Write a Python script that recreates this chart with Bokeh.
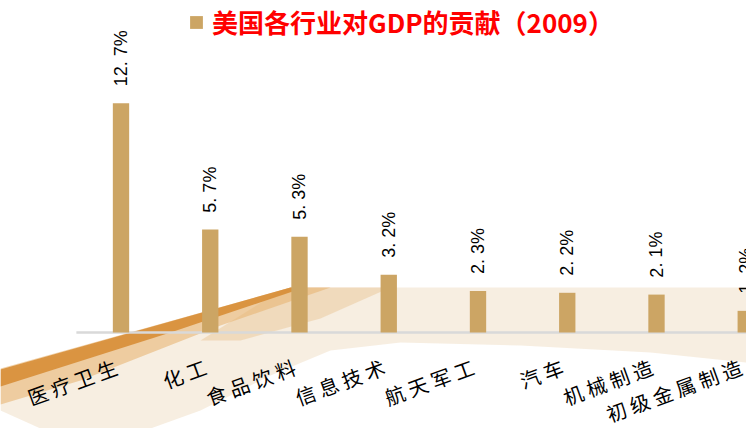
from bokeh.plotting import figure
from bokeh.models import Range1d, ColumnDataSource
from bokeh.core.properties import value
from bokeh.embed import file_html
from bokeh.resources import INLINE

# ---- data ----
categories = ["医疗卫生", "化工", "食品饮料", "信息技术", "航天军工", "汽车", "机械制造", "初级金属制造"]
shares = [12.7, 5.7, 5.3, 3.2, 2.3, 2.2, 2.1, 1.2]
title_text = "美国各行业对GDP的贡献（2009）"

value_labels = [f"{v:.1f}%".replace(".", ". ") for v in shares]
cat_labels = [" ".join(list(c)) for c in categories]
idx = list(range(len(categories)))

W, H = 746, 428
# pixel <-> data helpers (frame covers whole figure)
X0PX, XSTEP = 120.5, 89.25      # centre of first bar (px), px per category
Y0PX, YSTEP = 332.0, 18.05      # baseline (px from top), px per percent


def dx(px):
    return (px - X0PX) / XSTEP


def dy(py):
    return (Y0PX - py) / YSTEP


p = figure(width=W, height=H, output_backend="svg", toolbar_location=None,
           x_range=Range1d(dx(0), dx(W)), y_range=Range1d(dy(H), dy(0)),
           min_border=0, min_border_left=0, min_border_right=0,
           min_border_top=0, min_border_bottom=0)
p.axis.visible = False
p.grid.visible = False
p.outline_line_color = None
p.background_fill_color = "white"
p.border_fill_color = "white"


def poly(points, color, alpha):
    xs = [dx(x) for x, _ in points]
    ys = [dy(y) for _, y in points]
    p.patch(xs, ys, fill_color=color, fill_alpha=alpha, line_color=None)


# ---- decorative background swoosh (px) ----
# light beige band + fan
poly([(0, 372), (290, 287), (746, 287), (746, 362), (650, 352), (520, 345),
      (400, 342), (330, 350), (270, 375), (200, 410), (150, 428), (40, 428), (0, 410)], "#F4E7D4", 0.7)
# hatched light-orange wedge right of the ramp
poly([(280, 290), (290, 287), (390, 287), (320, 318), (240, 340), (200, 340)], "#EBCB9E", 0.55)
# soft orange under the ramp
poly([(0, 368), (290, 287), (330, 287), (220, 325), (80, 380), (0, 404)], "#E8B675", 0.6)
# dark orange ramp edge
poly([(0, 369), (290, 287), (304, 287), (170, 332), (0, 386)], "#D68A30", 0.85)

# baseline
p.segment(x0=[-0.5], y0=[0], x1=[len(categories) - 0.5], y1=[0],
          line_color="#D9D9D9", line_width=2.5)

src = ColumnDataSource(dict(x=idx, top=shares, vl=value_labels,
                            vy=[v + 0.94 for v in shares], cl=cat_labels))

p.vbar(x="x", top="top", bottom=0, width=0.183, source=src,
       fill_color="#CCA564", line_color=None, legend_label=title_text)

p.text(x="x", y="vy", text="vl", source=src, angle=1.5708,
       text_align="left", text_baseline="middle",
       text_font=value("Liberation Sans"), text_font_size="18px", text_color="black")

p.text(x="x", y=-1.85, text="cl", source=src, angle=0.35,
       x_offset=-5, text_align="right", text_baseline="middle",
       text_font=value("Noto Sans CJK SC"), text_font_size="20px", text_color="black")

lg = p.legend[0]
lg.location = (188, 388)
lg.padding = 0
lg.margin = 0
lg.border_line_color = None
lg.background_fill_alpha = 0
lg.glyph_width = 16
lg.glyph_height = 16
lg.label_standoff = 8
lg.label_text_font = "Noto Sans CJK SC"
lg.label_text_font_style = "bold"
lg.label_text_font_size = "26px"
lg.label_text_color = "#FF0000"

open("out.html", "w").write(file_html(p, INLINE))
